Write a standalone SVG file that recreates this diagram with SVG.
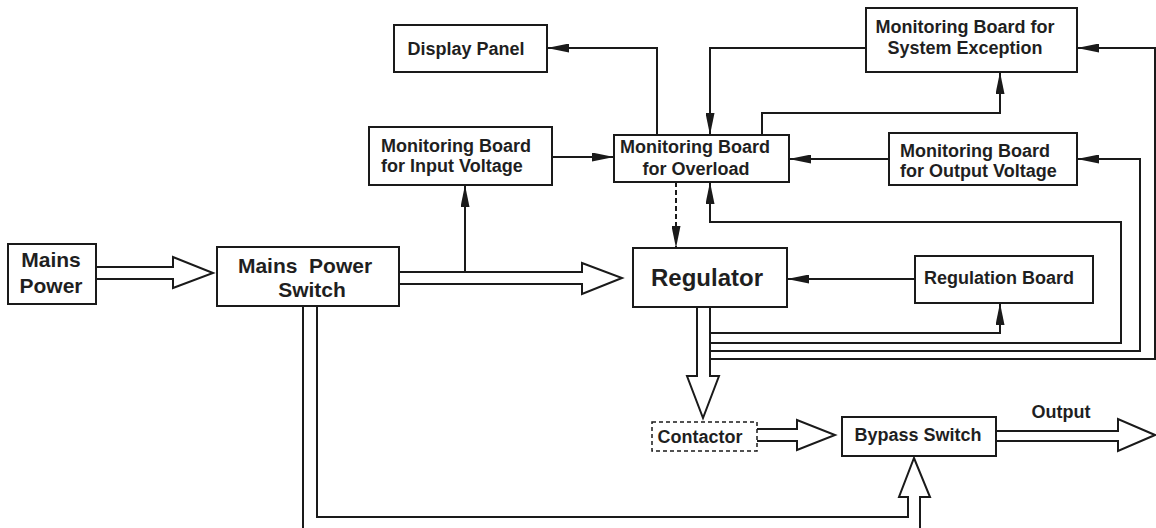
<svg xmlns="http://www.w3.org/2000/svg" width="1156" height="528" viewBox="0 0 1156 528">
<defs>
<marker id="ah" markerUnits="userSpaceOnUse" viewBox="0 0 22 9" refX="22" refY="4.5" markerWidth="22" markerHeight="9" orient="auto">
<path d="M0,0 L22,4.5 L0,9 z" fill="#1a1a1a"/>
</marker>
<style>
.box{fill:#fff;stroke:#1a1a1a;stroke-width:2}
.dbox{fill:#fff;stroke:#1a1a1a;stroke-width:1.5;stroke-dasharray:4 3}
.ln{fill:none;stroke:#1a1a1a;stroke-width:2}
.ar{fill:none;stroke:#1a1a1a;stroke-width:2;marker-end:url(#ah)}
.dash{fill:none;stroke:#1a1a1a;stroke-width:2;stroke-dasharray:5 3;marker-end:url(#ah)}
.hol{fill:#fff;stroke:#1a1a1a;stroke-width:2;stroke-linejoin:miter}
text{font-family:"Liberation Sans",Arial,sans-serif;font-weight:bold;fill:#1f1f1f;font-size:18px}
.c{text-anchor:middle}
.big{font-size:21px}
.huge{font-size:24px}
</style>
</defs>
<rect width="1156" height="528" fill="#fff"/>

<g id="connectors">
<path class="hol" d="M96,267 H173 V257 L213,273 L173,288 V279 H96"/>
<path class="hol" d="M399,272 H582 V263 L622,278 L582,294 V284 H399"/>
<path class="ar" d="M465,272 V185"/>
<path class="ar" d="M552,157 H614"/>
<path class="ar" d="M657,135 V48 H547"/>
<path class="ar" d="M866,48 H710 V135"/>
<path class="ar" d="M762,135 V113 H1000 V72"/>
<path class="ar" d="M889,159 H789"/>
<path class="dash" d="M676,182 V248"/>
<path class="ar" d="M915,279 H787"/>
<path class="ar" d="M710,333 H1000 V303"/>
<path class="ar" d="M710,343 H1121 V222 H710 V182"/>
<path class="ar" d="M710,351 H1140 V159 H1077"/>
<path class="ar" d="M710,359 H1155 V48 H1077"/>
<path class="hol" d="M697,307 V376 H687 L703,418 L719,376 H710 V307"/>
<path class="hol" d="M757,429 H797 V420 L835,435 L797,450 V441 H757"/>
<path class="hol" d="M996,431 H1118 V419 L1155,435 L1118,451 V441 H996"/>
<path class="ln" d="M303,306 V540 H920 V497 H930 L914,458 L899,497 H908 V517 H317 V306"/>
</g>

<g id="mains-power">
<rect class="box" x="8" y="244" width="88" height="60"/>
<text class="c big" x="51" y="267">Mains</text>
<text class="c big" x="51" y="293">Power</text>
</g>

<g id="mains-power-switch">
<rect class="box" x="217" y="247" width="182" height="59"/>
<text class="c big" x="305" y="273" xml:space="preserve">Mains  Power</text>
<text class="c big" x="312" y="297">Switch</text>
</g>

<g id="display-panel">
<rect class="box" x="394" y="25" width="153" height="47"/>
<text class="c" x="466" y="55">Display Panel</text>
</g>

<g id="mb-input-voltage">
<rect class="box" x="369" y="127" width="183" height="58"/>
<text x="381" y="152">Monitoring Board</text>
<text x="381" y="172">for Input Voltage</text>
</g>

<g id="mb-overload">
<rect class="box" x="614" y="135" width="175" height="47"/>
<text class="c" x="695" y="153">Monitoring Board</text>
<text class="c" x="696" y="175">for Overload</text>
</g>

<g id="mb-system-exception">
<rect class="box" x="866" y="8" width="211" height="64"/>
<text class="c" x="965" y="33">Monitoring Board for</text>
<text class="c" x="965" y="54">System Exception</text>
</g>

<g id="mb-output-voltage">
<rect class="box" x="889" y="133" width="188" height="52"/>
<text x="900" y="157">Monitoring Board</text>
<text x="900" y="177">for Output Voltage</text>
</g>

<g id="regulator">
<rect class="box" x="633" y="248" width="154" height="59"/>
<text class="c huge" x="707" y="286">Regulator</text>
</g>

<g id="regulation-board">
<rect class="box" x="915" y="256" width="178" height="47"/>
<text class="c" x="999" y="284">Regulation Board</text>
</g>

<g id="contactor">
<rect class="dbox" x="652" y="422" width="105" height="29"/>
<text class="c" x="700" y="443">Contactor</text>
</g>

<g id="bypass-switch">
<rect class="box" x="842" y="417" width="154" height="39"/>
<text class="c" x="918" y="441">Bypass Switch</text>
</g>

<g id="output-label">
<text class="c" x="1061" y="418">Output</text>
</g>
</svg>
